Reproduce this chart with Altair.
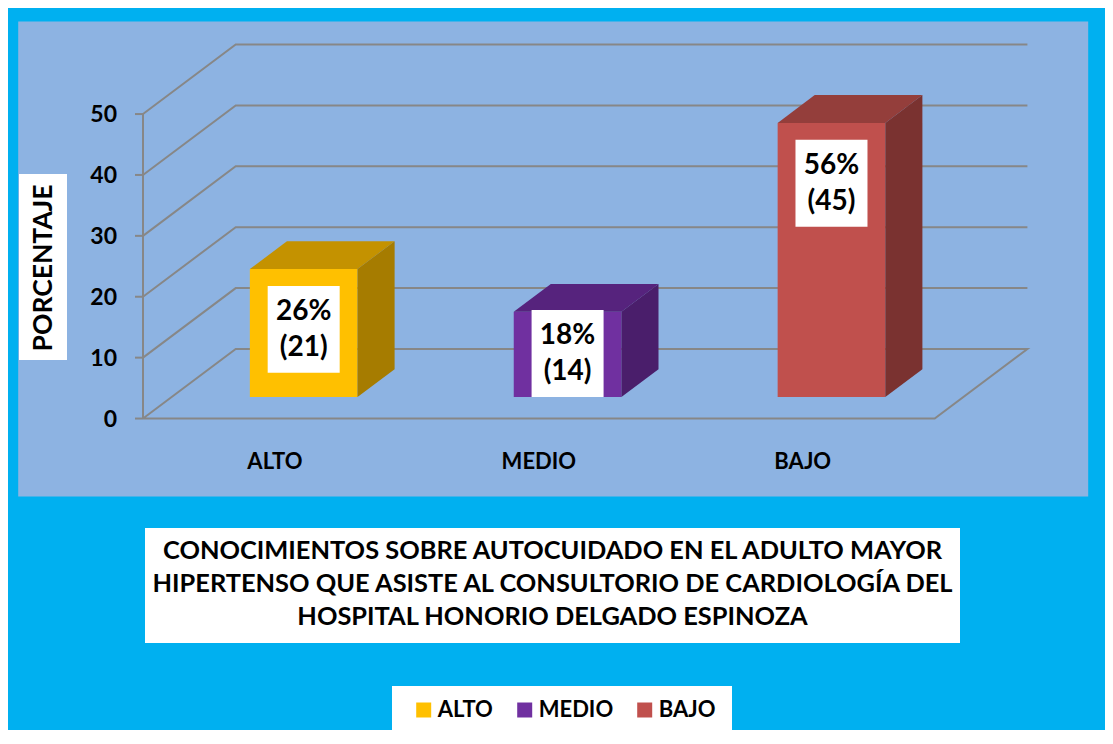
import altair as alt
import pandas as pd

# ---------------- data ----------------
categories = ["ALTO", "MEDIO", "BAJO"]
counts = [21, 14, 45]
percents = [26, 18, 56]
y_ticks = [0, 10, 20, 30, 40, 50]
axis_title = "PORCENTAJE"
title_lines = [
    "CONOCIMIENTOS SOBRE AUTOCUIDADO EN EL ADULTO MAYOR",
    "HIPERTENSO QUE ASISTE AL CONSULTORIO DE CARDIOLOGÍA DEL",
    "HOSPITAL HONORIO DELGADO ESPINOZA",
]

# ---------------- styles ----------------
front_colors = ["#FFC000", "#7030A0", "#C0504D"]
top_colors = ["#C49200", "#56237D", "#943E3B"]
side_colors = ["#A67C00", "#4A1E6B", "#7A3230"]
GRID = "#878787"
FONT = "Lato"

# oblique projection of the 3-D box (category units / value units per unit depth)
KX = 0.3513
KY = 11.42
D0, D1 = 0.31, 0.71
HALF = 0.204
XDOM = [-0.4748, 3.5798]
YDOM = [-12.72, 65.28]
W, H = 1070, 475
PX_PER_X = W / (XDOM[1] - XDOM[0])
TICK_LEN = 8 / PX_PER_X


def px(u, d):
    return u + KX * d


def py(v, d):
    return v + KY * d


xs = alt.Scale(domain=XDOM, nice=False, zero=False)
ys = alt.Scale(domain=YDOM, nice=False, zero=False)
X = lambda f="x": alt.X(f"{f}:Q", scale=xs, axis=None)
Y = lambda f="y": alt.Y(f"{f}:Q", scale=ys, axis=None)

# ---------------- walls / gridlines ----------------
grid_rows = []
n = len(categories)
for t in y_ticks:
    pts = [(0, 0), (0, 1), (n, 1)]
    if t == 0:
        pts += [(n, 0), (0, 0)]
    for k, (u, d) in enumerate(pts):
        grid_rows.append({"g": t, "k": k, "x": px(u, d), "y": py(t, d)})
grid_df = pd.DataFrame(grid_rows)

grid = alt.Chart(grid_df).mark_line(color=GRID, strokeWidth=2).encode(
    x=X(), y=Y(), detail="g:N", order="k:Q",
)

axis_df = pd.DataFrame({"x": [px(0, 0)], "y": [min(y_ticks)], "y2": [max(y_ticks)]})
front_axis = alt.Chart(axis_df).mark_rule(color=GRID, strokeWidth=2).encode(
    x=X(), y=Y(), y2="y2:Q",
)

tick_df = pd.DataFrame({
    "x": [px(0, 0) - TICK_LEN] * len(y_ticks),
    "x2": [px(0, 0)] * len(y_ticks),
    "y": y_ticks,
    "lab": [str(t) for t in y_ticks],
})
ticks = alt.Chart(tick_df).mark_rule(color=GRID, strokeWidth=2).encode(
    x=X(), x2="x2:Q", y=Y(),
)
tick_labels = alt.Chart(tick_df).mark_text(
    font=FONT, fontWeight="bold", fontSize=23, color="black",
    align="right", baseline="middle", dx=-18, dy=1,
).encode(x=X(), y=Y(), text="lab:N")

# ---------------- bars ----------------
front_rows, top_rows, side_rows, lab_rows = [], [], [], []
for i, (c, v, p) in enumerate(zip(categories, counts, percents)):
    L, R = i + 0.5 - HALF, i + 0.5 + HALF
    front_rows.append({"cat": c, "x": px(L, D0), "x2": px(R, D0),
                       "y": py(0, D0), "y2": py(v, D0)})
    top_rows += [
        {"cat": c, "x": px(L, D0), "y": py(v, D0), "y2": py(v, D0)},
        {"cat": c, "x": px(L, D1), "y": py(v, D0), "y2": py(v, D1)},
        {"cat": c, "x": px(R, D0), "y": py(v, D0), "y2": py(v, D1)},
        {"cat": c, "x": px(R, D1), "y": py(v, D1), "y2": py(v, D1)},
    ]
    side_rows += [
        {"cat": c, "x": px(R, D0), "y": py(0, D0), "y2": py(v, D0)},
        {"cat": c, "x": px(R, D1), "y": py(0, D1), "y2": py(v, D1)},
    ]
    lab_rows.append({"cat": c, "x": px(i + 0.5, D0),
                     "y": py(max(v - 9.9, 7.15), D0),
                     "t": f"{p}%\n({v})"})

front_df = pd.DataFrame(front_rows)
top_df = pd.DataFrame(top_rows)
side_df = pd.DataFrame(side_rows)
lab_df = pd.DataFrame(lab_rows)

front = alt.Chart(front_df).mark_rect().encode(
    x=X(), x2="x2:Q", y=Y(), y2="y2:Q",
    color=alt.Color(
        "cat:N",
        scale=alt.Scale(domain=categories, range=front_colors),
        legend=alt.Legend(
            orient="none", legendX=395, legendY=678, direction="horizontal",
            title=None, symbolType="square", symbolSize=225,
            symbolStrokeWidth=0, symbolOpacity=1,
            labelFont=FONT, labelFontWeight="bold", labelFontSize=22,
            labelColor="black", labelOffset=3, columnPadding=20, padding=0,
        ),
    ),
)

top = alt.Chart(top_df).mark_area(opacity=1).encode(
    x=X(), y=Y(), y2="y2:Q",
    color=alt.Color("cat:N", scale=alt.Scale(domain=categories, range=top_colors), legend=None),
)

side = alt.Chart(side_df).mark_area(opacity=1).encode(
    x=X(), y=Y(), y2="y2:Q",
    color=alt.Color("cat:N", scale=alt.Scale(domain=categories, range=side_colors), legend=None),
)

label_box = alt.Chart(lab_df).mark_point(
    shape="M-1,-1.208H1V1.208H-1Z", size=5184, filled=True,
    fill="white", opacity=1, strokeWidth=0,
).encode(x=X(), y=Y())

label_text = alt.Chart(lab_df).mark_text(
    font=FONT, fontWeight="bold", fontSize=28, color="black",
    lineBreak="\n", lineHeight=36, baseline="middle", align="center", dy=-17,
).encode(x=X(), y=Y(), text="t:N")

cat_df = pd.DataFrame({"cat": categories,
                       "x": [px(i + 0.5, 0) for i in range(n)],
                       "y": [0] * n})
cat_text = alt.Chart(cat_df).mark_text(
    font=FONT, fontWeight="bold", fontSize=22, color="black",
    baseline="middle", align="center", dy=43,
).encode(x=X(), y=Y(), text="cat:N")

# ---------------- decorations ----------------
deco = pd.DataFrame({"a": [0]})

ytitle_box = alt.Chart(deco).mark_rect(color="white").encode(
    x=alt.value(1.3), x2=alt.value(49.3), y=alt.value(153), y2=alt.value(339)
)
ytitle_text = alt.Chart(pd.DataFrame({"t": [axis_title]})).mark_text(
    font=FONT, fontWeight="bold", fontSize=26.5, color="black",
    angle=270, baseline="middle", align="center",
).encode(x=alt.value(26), y=alt.value(247), text="t:N")

title_box = alt.Chart(deco).mark_rect(color="white").encode(
    x=alt.value(127.3), x2=alt.value(942.3), y=alt.value(507), y2=alt.value(622)
)
title_text = alt.Chart(pd.DataFrame({"t": ["\n".join(title_lines)]})).mark_text(
    font=FONT, fontWeight="bold", fontSize=25.4, color="black",
    lineBreak="\n", lineHeight=33, baseline="middle", align="center",
).encode(x=alt.value(534.8), y=alt.value(530), text="t:N")

legend_box = alt.Chart(deco).mark_rect(color="white").encode(
    x=alt.value(374.3), x2=alt.value(714.3), y=alt.value(665), y2=alt.value(713)
)

chart = alt.layer(
    grid, front_axis, ticks, tick_labels, front, top, side, label_box, label_text,
    cat_text, ytitle_box, ytitle_text, title_box, title_text, legend_box,
).resolve_scale(color="independent").properties(
    width=W, height=H,
    autosize=alt.AutoSizeParams(type="none"),
    padding={"left": 9.7, "top": 13, "right": 17.3, "bottom": 234},
    background="#00B0F0",
).configure_view(fill="#8DB3E2", stroke="transparent")

chart.save("out.html", embed_options={"renderer": "svg", "actions": False})
